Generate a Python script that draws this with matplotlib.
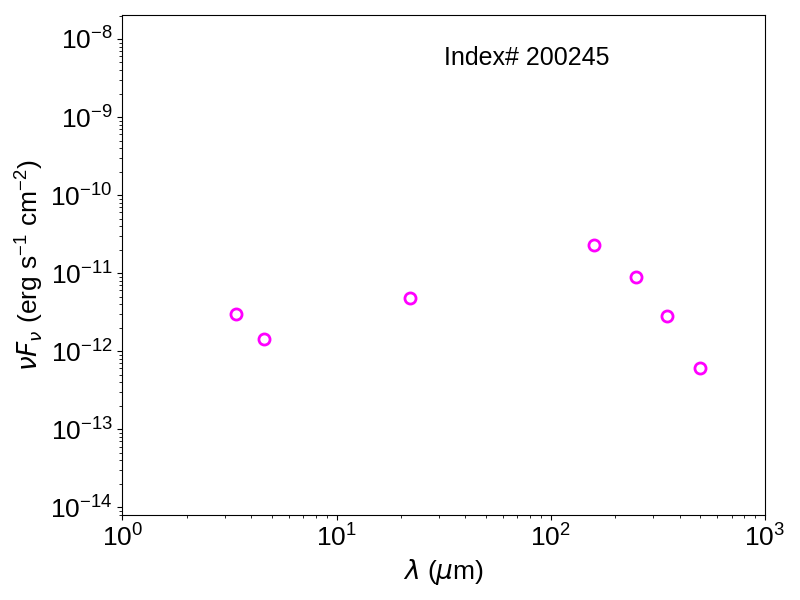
import matplotlib
matplotlib.use("Agg")
import matplotlib.pyplot as plt
from matplotlib.ticker import NullFormatter

base = 'Liberation Sans'
plt.rcParams['font.family'] = [base, 'DejaVu Sans']
plt.rcParams['mathtext.fontset'] = 'custom'
plt.rcParams['mathtext.rm'] = base
plt.rcParams['mathtext.it'] = 'DejaVu Sans:italic'
plt.rcParams['mathtext.bf'] = base + ':bold'

wavelength = [3.4, 4.6, 22.0, 160.0, 250.0, 350.0, 500.0]
nufnu = [2.97e-12, 1.42e-12, 4.76e-12, 2.27e-11, 8.85e-12, 2.80e-12, 6.04e-13]
label_text = "Index# 200245"

fig = plt.figure(figsize=(8, 6), dpi=100)
ax = fig.add_axes([0.153, 0.1417, 0.803, 0.8333])
ax.plot(wavelength, nufnu, linestyle='none', marker='o', markersize=8,
        markerfacecolor='none', markeredgecolor='magenta', markeredgewidth=2)
ax.set_xscale('log')
ax.set_yscale('log')
ax.set_xlim(1, 1000)
ax.set_ylim(7.96e-15, 2.03e-8)
ax.xaxis.set_minor_formatter(NullFormatter())
ax.yaxis.set_minor_formatter(NullFormatter())
ax.set_xlabel(r'$\lambda$ ($\mu$m)', fontsize=19)
ax.set_ylabel(r'$\nu F_\nu$ (erg s$^{-1}$ cm$^{-2}$)', fontsize=19)
ax.tick_params(axis='both', which='major', labelsize=19)
ax.text(0.5, 0.9, label_text, transform=ax.transAxes, fontsize=18)

fig.savefig('out.png', dpi=100)
